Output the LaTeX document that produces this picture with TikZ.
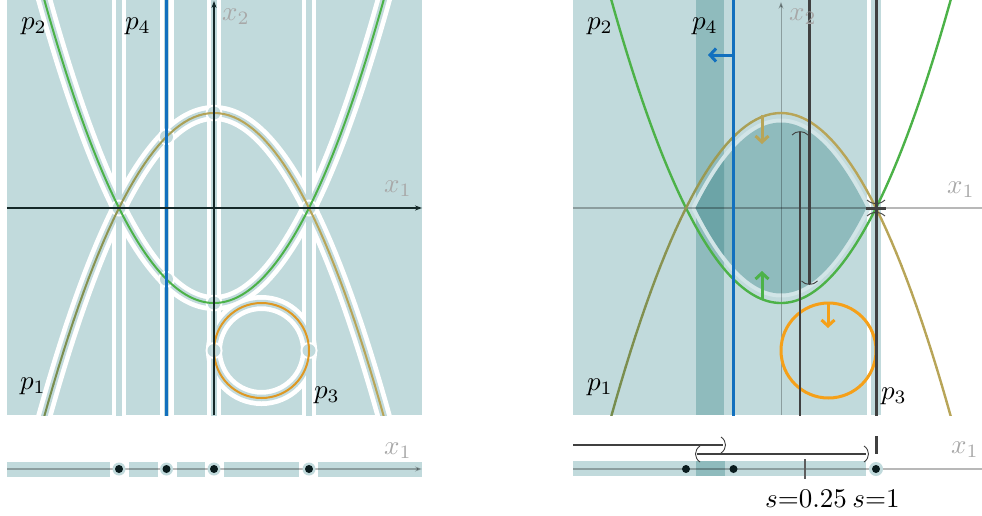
\documentclass[tikz,border=0pt]{standalone}
\usetikzlibrary{arrows.meta}
\definecolor{tlight}{RGB}{193,218,220}
\definecolor{tmed}{RGB}{143,187,189}
\definecolor{tdark}{RGB}{108,164,167}
\definecolor{tpale}{RGB}{210,229,231}
\definecolor{cgreen}{RGB}{76,178,72}
\definecolor{colivea}{RGB}{118,140,78}
\definecolor{coliveb}{RGB}{184,165,88}
\definecolor{cblue}{RGB}{18,112,190}
\definecolor{corange}{RGB}{245,160,25}
\definecolor{cgold}{RGB}{222,152,35}
\definecolor{cdark}{RGB}{64,64,64}
\definecolor{caxis}{RGB}{20,40,40}
\definecolor{cdot}{RGB}{10,28,30}
\definecolor{clabel}{RGB}{168,168,168}
\newcommand\olivecurve[1]{%
  \foreach \i in {0,...,71}{%
    \pgfmathsetmacro\xa{-1.9+\i*0.0528}%
    \pgfmathsetmacro\xb{\xa+0.0528}%
    \pgfmathtruncatemacro\mixp{min(100,max(0,(\xa+1.8)/1.8*100))}%
    \draw[coliveb!\mixp!colivea, line width=#1, line cap=round] (\xa,{1-(\xa)*(\xa)}) -- (\xb,{1-(\xb)*(\xb)});
  }}
\begin{document}
\begin{tikzpicture}[x=1pt,y=-1pt,
  lbl/.style={inner sep=0pt, scale=2.7},
  axlbl/.style={lbl, text=clabel},
  wband/.style={white, line width=16pt},
  tcore/.style={tlight, line width=6.5pt},
  wvband/.style={white, line width=14pt},
  tvcore/.style={tlight, line width=5.5pt},
  tipb/.style={-{Straight Barb[length=6pt,width=13pt]}},
  grayaxis/.style={black, opacity=0.28, line width=1.2pt},
  ivl/.style={cdark, line width=2.5pt},
  capl/.style={cdark, line width=0.9pt},
]
\useasboundingbox (0,0) rectangle (982,515);

% ================= LEFT PANEL =================
\begin{scope}[shift={(214,208)}, x=95pt, y=95pt]
  \begin{scope}
    \clip (-2.18,-2.18) rectangle (2.19,2.19);
    \fill[tlight] (-2.18,-2.18) rectangle (2.19,2.19);
    % white separators
    \draw[wband] plot[domain=-1.9:1.9,samples=80,smooth] (\x,{(\x)*(\x)-1});
    \draw[wband] plot[domain=-1.9:1.9,samples=80,smooth] (\x,{1-(\x)*(\x)});
    \draw[wband] (0.5,-1.5) circle (0.5);
    \foreach \v in {-1,-0.5,0,1} \draw[wvband] (\v,-2.3) -- (\v,2.3);
    % teal cores
    \draw[tcore] plot[domain=-1.9:1.9,samples=80,smooth] (\x,{(\x)*(\x)-1});
    \draw[tcore] plot[domain=-1.9:1.9,samples=80,smooth] (\x,{1-(\x)*(\x)});
    \draw[tcore] (0.5,-1.5) circle (0.5);
    \foreach \v in {-1,-0.5,0,1} \draw[tvcore] (\v,-2.3) -- (\v,2.3);
    % point cells
    \foreach \p in {(-1,0),(1,0),(-0.5,0.75),(-0.5,-0.75),(0,1),(0,-1),(0,-1.5),(1,-1.5)}{
      \fill[white] \p circle (8.5pt);
      \fill[tlight] \p circle (6.5pt);
    }
    % curves
    \draw[cgreen, line width=2pt] plot[domain=-1.9:1.9,samples=80,smooth] (\x,{(\x)*(\x)-1});
    \olivecurve{2pt}
    \draw[cgold, line width=2pt] (0.5,-1.5) circle (0.5);
    \draw[cblue, line width=2.6pt] (-0.5,-2.3) -- (-0.5,2.3);
  \end{scope}
  \draw[caxis, line width=1.1pt, -{Stealth[length=7pt,width=5pt]}] (-2.18,0) -- (2.19,0);
  \draw[caxis, line width=1.1pt, -{Stealth[length=7pt,width=5pt]}] (0,-2.18) -- (0,2.18);
\end{scope}
\node[lbl] (lp2) at (34,26) {$p_2$};
\node[lbl] (lp4) at (138,26) {$p_4$};
\node[lbl] (lp1) at (33,386) {$p_1$};
\node[lbl] (lp3) at (327,395) {$p_3$};
\node[axlbl] (lx2) at (236,17) {$x_2$};
\node[axlbl] (lx1) at (398,189) {$x_1$};

% left bottom line
\foreach \a/\b in {7/110,129/158,177/205,224/299,318/422}
  \fill[tlight] (\a,462) rectangle (\b,477);
\draw[grayaxis, -{Stealth[length=7pt,width=5pt]}] (7,469) -- (422,469);
\foreach \p in {119,166.5,214,309}{
  \fill[tlight] (\p,469) circle (6.5);
  \fill[cdot] (\p,469) circle (4);
}
\node[axlbl] (lbx1) at (398,451) {$x_1$};

% ================= RIGHT PANEL =================
\begin{scope}[shift={(781,208)}, x=95pt, y=95pt]
  \begin{scope}
    \clip (-2.19,-2.18) rectangle (2.12,2.19);
    \fill[tlight] (-2.19,-2.18) rectangle (0.9,2.19);
    \fill[tmed] (-0.9,-2.18) rectangle (-0.6,2.19);
    \fill[tlight] (0.947,-2.18) rectangle (1.053,2.19);
    \draw[tpale, line width=8pt, line join=round]
      plot[domain=-0.9:0.9,samples=60] (\x,{0.9-(\x)*(\x)/0.9}) --
      plot[domain=0.9:-0.9,samples=60] (\x,{(\x)*(\x)/0.9-0.9}) -- cycle;
    \fill[tmed]
      plot[domain=-0.9:0.9,samples=60] (\x,{0.9-(\x)*(\x)/0.9}) --
      plot[domain=0.9:-0.9,samples=60] (\x,{(\x)*(\x)/0.9-0.9}) -- cycle;
    \begin{scope}
      \clip (-0.9,-2.2) rectangle (-0.6,2.2);
      \fill[tdark]
        plot[domain=-0.9:0.9,samples=60] (\x,{0.9-(\x)*(\x)/0.9}) --
        plot[domain=0.9:-0.9,samples=60] (\x,{(\x)*(\x)/0.9-0.9}) -- cycle;
    \end{scope}
    \draw[grayaxis] (-2.19,0) -- (2.12,0);
    \draw[grayaxis, line width=1pt, -{Stealth[length=7pt,width=5pt]}] (0,-2.18) -- (0,2.17);
    % curves
    \draw[cgreen, line width=2.4pt] plot[domain=-1.9:1.9,samples=80,smooth] (\x,{(\x)*(\x)-1});
    \olivecurve{2.4pt}
    \draw[corange, line width=3pt] (0.5,-1.5) circle (0.5);
    \draw[cblue, line width=3pt] (-0.5,-2.3) -- (-0.5,2.3);
    % intervals at s
    \draw[ivl] (0.2,-2.3) -- (0.2,0.8);
    \draw[ivl] (0.3,2.3) -- (0.3,-0.8);
    \draw[cdark, line width=3pt] (1,-2.3) -- (1,2.3);
    \draw[cdark, line width=3pt] (1,0) ++(-10pt,0) -- ++(20pt,0);
  \end{scope}
  \begin{scope}[shift={(0.2,0.8)}, x=1pt, y=1pt]
    \draw[capl] (-8,-3) .. controls (-4,1.5) and (4,1.5) .. (8,-3);
  \end{scope}
  \begin{scope}[shift={(0.3,-0.8)}, x=1pt, y=1pt]
    \draw[capl] (-8,3) .. controls (-4,-1.5) and (4,-1.5) .. (8,3);
  \end{scope}
  \begin{scope}[shift={(1,0)}, x=1pt, y=1pt]
    \draw[capl] (-9,8) .. controls (-3,3) and (3,3) .. (9,8);
    \draw[capl] (-9,-8) .. controls (-3,-3) and (3,-3) .. (9,-8);
  \end{scope}
\end{scope}
% direction arrows
\draw[cblue, line width=3pt, tipb] (733,55) -- (708,55);
\draw[coliveb, line width=3pt, tipb] (762,115) -- (762,144);
\draw[cgreen, line width=3pt, tipb] (762,299) -- (762,271);
\draw[corange, line width=3pt, tipb] (828,302) -- (828,328);

\node[lbl] (rp2) at (600,26) {$p_2$};
\node[lbl] (rp4) at (705,26) {$p_4$};
\node[lbl] (rp1) at (600,387) {$p_1$};
\node[lbl] (rp3) at (894,396) {$p_3$};
\node[axlbl] (rx2) at (803,17) {$x_2$};
\node[axlbl] (rx1) at (961,190) {$x_1$};

% right bottom line
\fill[tlight] (573,461) rectangle (866,476);
\fill[tmed] (696,461) rectangle (725,476);
\draw[grayaxis] (573,469) -- (982,469);
\fill[cdot] (686,469) circle (4);
\fill[cdot] (733.5,469) circle (4);
\fill[tlight] (876,469) circle (7);
\fill[cdot] (876,469) circle (4);
\draw[cdark!85, line width=1.4pt] (805,459) -- (805,479);
\draw[ivl] (573,445) -- (723,445);
\draw[capl] (721,437) .. controls (727,441) and (727,449) .. (721,453);
\draw[ivl] (697,454) -- (866,454);
\draw[capl] (700,446) .. controls (694,450) and (694,458) .. (700,462);
\draw[capl] (864,446) .. controls (870,450) and (870,458) .. (864,462);
\draw[cdark, line width=3pt] (876,436) -- (876,454);
\node[lbl, anchor=base] (s1) at (806,507) {$s{=}0.25$};
\node[lbl, anchor=base] (s2) at (876,507) {$s{=}1$};
\node[axlbl] (rbx1) at (965,450) {$x_1$};
\end{tikzpicture}
\end{document}
